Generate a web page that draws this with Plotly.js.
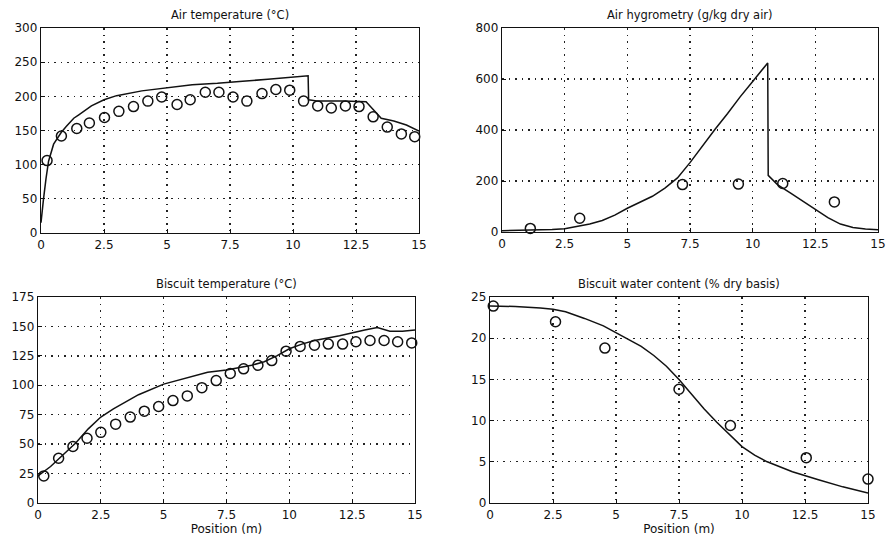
<!DOCTYPE html>
<html>
<head>
<meta charset="utf-8">
<script src="https://cdn.plot.ly/plotly-3.0.1.min.js"></script>
<style>html,body{margin:0;padding:0;background:#fff}#chart{width:887px;height:536px}</style>
</head>
<body>
<div id="chart"></div>
<script>
// ---- Air temperature (°C) ----
const airTempModelX = [0, 0.05, 0.1, 0.2, 0.3, 0.5, 0.8, 1.0, 1.3, 1.5, 2.0, 2.5, 3.0, 4.0, 5.0, 6.0, 7.0, 7.5, 8.0, 9.0, 10.0, 10.6, 10.62, 11.0, 12.0, 12.9, 13.2, 13.5, 14.0, 14.5, 15.0];
const airTempModelY = [15, 35, 50, 80, 105, 130, 147, 156, 168, 173, 186, 195, 201, 208, 213, 217, 219, 220, 222, 225, 228, 230, 195, 193, 193, 192, 180, 168, 164, 158, 149];
const airTempExpX = [0.24, 0.81, 1.42, 1.92, 2.52, 3.09, 3.67, 4.24, 4.79, 5.40, 5.92, 6.52, 7.06, 7.62, 8.17, 8.77, 9.32, 9.87, 10.42, 10.98, 11.52, 12.08, 12.62, 13.18, 13.74, 14.30, 14.83];
const airTempExpY = [106, 142, 153, 161, 169, 178, 185, 193, 199, 188, 195, 206, 206, 199, 193, 204, 210, 209, 193, 186, 183, 186, 185, 170, 155, 145, 141];

// ---- Air hygrometry (g/kg dry air) ----
const hygroModelX = [0, 1.0, 2.0, 2.5, 3.0, 3.5, 4.0, 4.5, 5.0, 5.5, 6.0, 6.5, 7.0, 7.5, 8.0, 8.5, 9.0, 9.5, 10.0, 10.3, 10.6, 10.62, 11.0, 11.5, 12.0, 12.5, 13.0, 13.5, 14.0, 14.5, 15.0];
const hygroModelY = [5, 7, 10, 13, 21, 31, 45, 66, 93, 116, 140, 172, 212, 272, 338, 403, 465, 530, 590, 625, 663, 222, 185, 153, 120, 88, 56, 31, 18, 12, 9];
const hygroExpX = [1.13, 3.10, 7.20, 9.43, 11.2, 13.26];
const hygroExpY = [14, 54, 186, 188, 190, 118];

// ---- Biscuit temperature (°C) ----
const bisTempModelX = [0, 0.5, 1.0, 1.5, 2.0, 2.5, 3.0, 3.5, 4.0, 5.0, 6.0, 6.75, 7.5, 8.5, 9.0, 9.5, 10.0, 10.5, 11.0, 12.0, 13.0, 13.5, 14.0, 14.5, 15.0];
const bisTempModelY = [23, 31, 41, 51, 63, 73, 80, 86, 92, 101, 107, 111, 113, 117, 120, 125, 131, 135, 138, 142, 147, 149, 146, 146, 147];
const bisTempExpX = [0.23, 0.82, 1.39, 1.95, 2.50, 3.09, 3.67, 4.23, 4.80, 5.37, 5.94, 6.52, 7.09, 7.65, 8.18, 8.75, 9.30, 9.87, 10.43, 11.0, 11.55, 12.12, 12.65, 13.21, 13.77, 14.31, 14.87];
const bisTempExpY = [23, 38, 48, 55, 60, 67, 73, 78, 82, 87, 91, 98, 104, 110, 114, 117, 121, 129, 133, 134, 135, 135, 137, 138, 138, 137, 136];

// ---- Biscuit water content (% dry basis) ----
const waterModelX = [0, 1, 2, 2.5, 3, 3.75, 4.5, 5, 5.5, 6, 6.5, 7, 7.5, 8, 8.5, 9, 9.5, 10, 10.5, 11, 12, 12.5, 13, 14, 15];
const waterModelY = [23.9, 23.85, 23.65, 23.5, 23.2, 22.4, 21.5, 20.7, 19.9, 19.0, 17.9, 16.6, 15.0, 13.2, 11.4, 9.8, 8.3, 6.85, 5.8, 5.0, 3.8, 3.3, 2.85, 1.96, 1.2];
const waterExpX = [0.13, 2.6, 4.56, 7.5, 9.54, 12.55, 15.0];
const waterExpY = [23.9, 22.0, 18.8, 13.8, 9.4, 5.5, 2.9];

// ---- Tick labels / titles ----
const xTickVals = [0, 2.5, 5, 7.5, 10, 12.5, 15];
const xTickText = ["0", "2.5", "5", "7.5", "10", "12.5", "15"];
const titles = ["Air temperature (°C)", "Air hygrometry (g/kg dry air)", "Biscuit temperature (°C)", "Biscuit water content (% dry basis)"];
const xAxisTitle = "Position (m)";

const W = 887, H = 536;
const fontFam = "DejaVu Sans, Verdana, sans-serif";
const ink = "#111";

function line(x, y, xa, ya) {
  return {x: x, y: y, xaxis: xa, yaxis: ya, type: "scatter", mode: "lines",
    line: {color: ink, width: 1.5}, showlegend: false, hoverinfo: "skip"};
}
function pts(x, y, xa, ya) {
  return {x: x, y: y, xaxis: xa, yaxis: ya, type: "scatter", mode: "markers",
    marker: {symbol: "circle-open", size: 10, color: ink, line: {width: 1.5, color: ink}},
    showlegend: false, hoverinfo: "skip", cliponaxis: false};
}

const data = [
  line(airTempModelX, airTempModelY, "x", "y"),
  pts(airTempExpX, airTempExpY, "x", "y"),
  line(hygroModelX, hygroModelY, "x2", "y2"),
  pts(hygroExpX, hygroExpY, "x2", "y2"),
  line(bisTempModelX, bisTempModelY, "x3", "y3"),
  pts(bisTempExpX, bisTempExpY, "x3", "y3"),
  line(waterModelX, waterModelY, "x4", "y4"),
  pts(waterExpX, waterExpY, "x4", "y4")
];

// pixel boxes: [left, right, top, bottom]
const boxes = [[41, 419, 28, 233], [502, 878, 28, 232], [38, 415, 297, 503], [490, 868, 297, 503]];
const gridStyle = {showgrid: true, gridcolor: "#222", griddash: "1.5px,5px", gridwidth: 1.3, zeroline: false};

function xax(i, withTitle) {
  const b = boxes[i];
  const a = Object.assign({
    domain: [b[0] / W, b[1] / W], range: [0, 15], anchor: i === 0 ? "y" : "y" + (i + 1),
    tickvals: xTickVals, ticktext: xTickText, ticks: "inside", ticklen: 4, tickcolor: ink,
    showline: true, mirror: true, linecolor: ink, linewidth: 1.3,
    tickfont: {family: fontFam, size: 12, color: ink}, fixedrange: true
  }, gridStyle);
  if (withTitle) a.title = {text: xAxisTitle, font: {family: fontFam, size: 12, color: ink}, standoff: 2};
  return a;
}
function yax(i, range, dtick) {
  const b = boxes[i];
  return Object.assign({
    domain: [1 - b[3] / H, 1 - b[2] / H], range: range, dtick: dtick, anchor: i === 0 ? "x" : "x" + (i + 1),
    ticks: "inside", ticklen: 4, tickcolor: ink,
    showline: true, mirror: true, linecolor: ink, linewidth: 1.3,
    tickfont: {family: fontFam, size: 12, color: ink}, fixedrange: true
  }, gridStyle);
}

const annotations = titles.map((t, i) => {
  const b = boxes[i];
  return {text: t, xref: "paper", yref: "paper", x: (b[0] + b[1]) / 2 / W, y: 1 - (b[2] - 4) / H,
    xanchor: "center", yanchor: "bottom", showarrow: false,
    font: {family: fontFam, size: 11.5, color: ink}};
});

const layout = {
  width: W, height: H, margin: {l: 0, r: 0, t: 0, b: 0},
  paper_bgcolor: "#fff", plot_bgcolor: "#fff", showlegend: false,
  xaxis: xax(0, false), yaxis: yax(0, [0, 300], 50),
  xaxis2: xax(1, false), yaxis2: yax(1, [0, 800], 200),
  xaxis3: xax(2, true), yaxis3: yax(2, [0, 175], 25),
  xaxis4: xax(3, true), yaxis4: yax(3, [0, 25], 5),
  annotations: annotations
};

Plotly.newPlot("chart", data, layout, {displayModeBar: false, staticPlot: true});
</script>
</body>
</html>
